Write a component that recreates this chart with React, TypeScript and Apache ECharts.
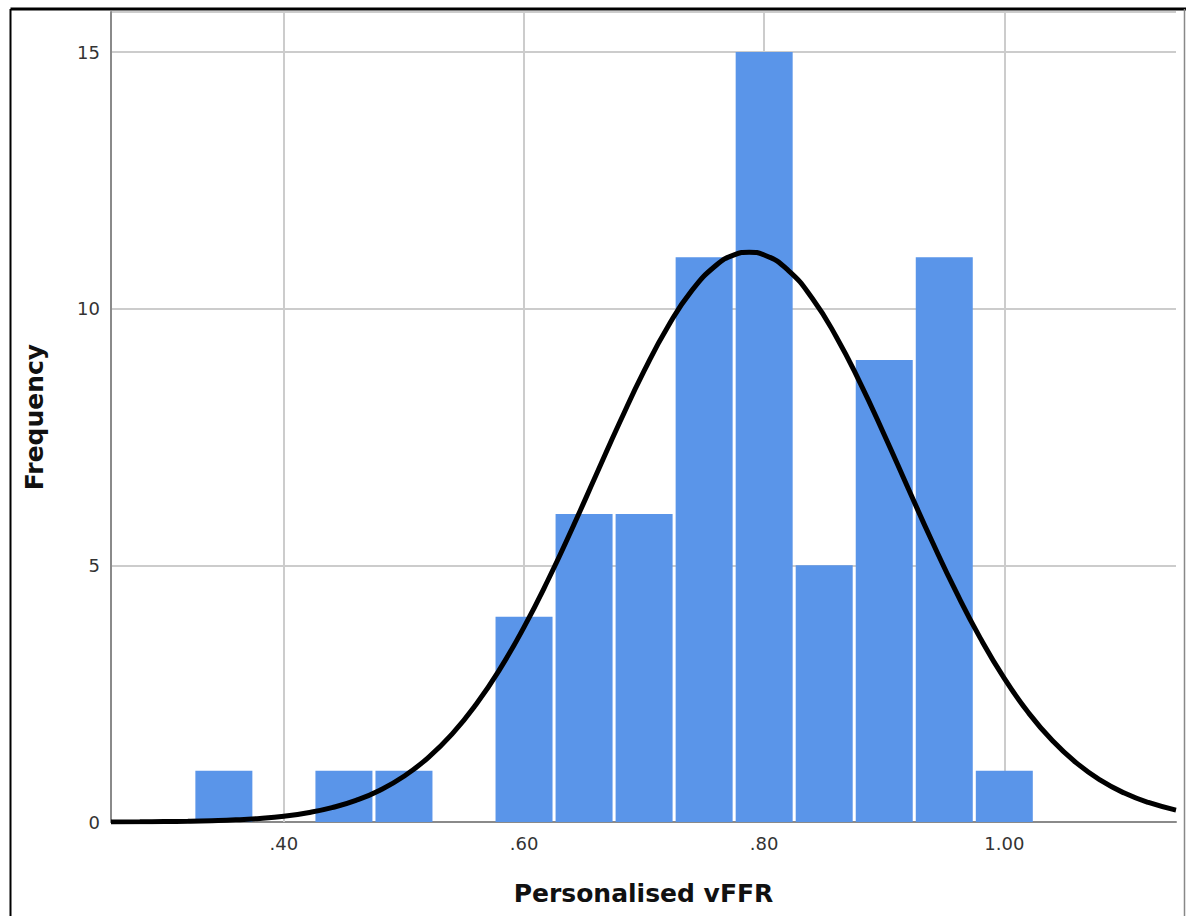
import React, { useEffect, useRef } from "react";
import * as echarts from "echarts";

// Histogram bins (bin centres, width 0.05) and counts
const binCenters = [0.35, 0.45, 0.5, 0.6, 0.65, 0.7, 0.75, 0.8, 0.85, 0.9, 0.95, 1.0];
const frequencies = [1, 1, 1, 4, 6, 6, 11, 15, 5, 9, 11, 1];

// Fitted normal curve
const curveX = [
  0.256, 0.28, 0.3, 0.32, 0.34, 0.36, 0.38, 0.4, 0.42, 0.44, 0.46, 0.48, 0.5, 0.52, 0.54,
  0.56, 0.58, 0.6, 0.62, 0.64, 0.66, 0.68, 0.7, 0.72, 0.74, 0.76, 0.775, 0.7875, 0.8, 0.82,
  0.84, 0.86, 0.88, 0.9, 0.92, 0.94, 0.96, 0.98, 1.0, 1.02, 1.04, 1.06, 1.08, 1.1, 1.12,
  1.143,
];
const curveY = [
  0.002, 0.004, 0.008, 0.014, 0.025, 0.042, 0.07, 0.113, 0.18, 0.279, 0.421, 0.62, 0.891,
  1.25, 1.711, 2.289, 2.983, 3.796, 4.714, 5.714, 6.759, 7.801, 8.788, 9.659, 10.362,
  10.847, 11.05, 11.1, 11.047, 10.748, 10.204, 9.455, 8.549, 7.544, 6.496, 5.459, 4.477,
  3.582, 2.798, 2.132, 1.586, 1.151, 0.815, 0.564, 0.38, 0.232,
];

const xTicks = [0.4, 0.6, 0.8, 1.0];
const xMin = 0.256;
const xMax = 1.143;
const yMax = 15.78;
const yInterval = 5;

const fmtX = (v: number) => {
  const s = Number(v).toFixed(2);
  return s.startsWith("0") ? s.slice(1) : s;
};

export default function App() {
  const ref = useRef<HTMLDivElement>(null);

  useEffect(() => {
    if (!ref.current) return;
    const chart = echarts.init(ref.current, null, { renderer: "svg" });
    const gridColor = "#cccccc";
    const axisColor = "#8a8a8a";
    chart.setOption({
      animation: false,
      backgroundColor: "#ffffff",
      grid: { left: 111, right: 10, top: 12, bottom: 94, containLabel: false },
      xAxis: {
        type: "value",
        min: xMin,
        max: xMax,
        name: "Personalised vFFR",
        nameLocation: "middle",
        nameGap: 59,
        nameTextStyle: {
          fontFamily: "DejaVu Sans",
          fontWeight: "bold",
          fontSize: 25,
          color: "#111",
        },
        axisLine: { show: true, onZero: false, lineStyle: { color: axisColor, width: 2 } },
        axisTick: { show: false },
        splitLine: { show: false },
        axisLabel: {
          customValues: xTicks,
          formatter: (v: number) => fmtX(v),
          fontFamily: "DejaVu Sans",
          fontSize: 18,
          color: "#333",
          margin: 12,
        },
      },
      yAxis: {
        type: "value",
        min: 0,
        max: yMax,
        interval: yInterval,
        name: "Frequency",
        nameLocation: "middle",
        nameGap: 64,
        nameRotate: 90,
        nameTextStyle: {
          fontFamily: "DejaVu Sans",
          fontWeight: "bold",
          fontSize: 25,
          color: "#111",
        },
        axisLine: { show: true, lineStyle: { color: axisColor, width: 2 } },
        axisTick: { show: false },
        splitLine: { show: true, lineStyle: { color: gridColor, width: 2 } },
        axisLabel: {
          showMaxLabel: false,
          fontFamily: "DejaVu Sans",
          fontSize: 18,
          color: "#333",
          margin: 11,
        },
      },
      graphic: [
        {
          type: "line",
          shape: { x1: 10.5, y1: 9, x2: 1186, y2: 9 },
          style: { stroke: "#000", lineWidth: 3 },
        },
        {
          type: "line",
          shape: { x1: 10.5, y1: 9, x2: 10.5, y2: 916 },
          style: { stroke: "#000", lineWidth: 2 },
        },
        {
          type: "line",
          shape: { x1: 1184.5, y1: 9, x2: 1184.5, y2: 916 },
          style: { stroke: "#888", lineWidth: 1.5 },
        },
      ],
      series: [
        {
          type: "line",
          data: [],
          z: 1,
          silent: true,
          markLine: {
            silent: true,
            z: 1,
            symbol: "none",
            label: { show: false },
            lineStyle: { color: gridColor, width: 2, type: "solid" },
            data: xTicks.map((v) => ({ xAxis: v })),
          },
        },
        {
          type: "bar",
          z: 10,
          barWidth: 57,
          itemStyle: { color: "#5a95e9" },
          data: binCenters.map((c, i) => [c, frequencies[i]]),
        },
        {
          type: "line",
          z: 11,
          smooth: 0.5,
          showSymbol: false,
          symbol: "none",
          lineStyle: { color: "#000", width: 5 },
          data: curveX.map((x, i) => [x, curveY[i]]),
        },
      ],
    });
    return () => chart.dispose();
  }, []);

  return (
    <div
      ref={ref}
      style={{ position: "absolute", left: 0, top: 0, width: 1186, height: 916 }}
    />
  );
}
